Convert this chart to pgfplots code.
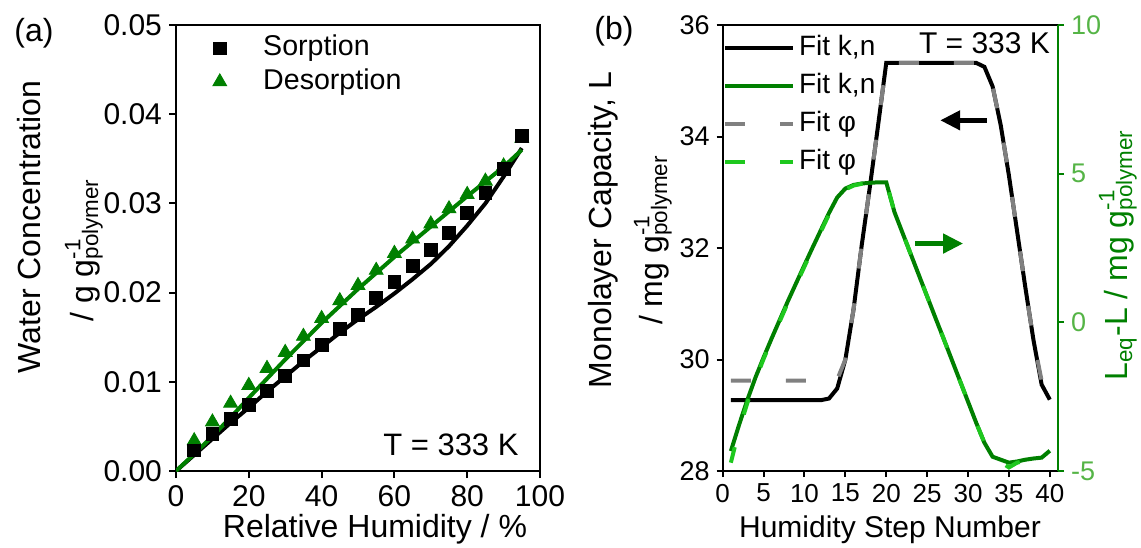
\documentclass[border=0pt]{standalone}
\usepackage{pgfplots}
\pgfplotsset{compat=1.18}
\usepackage{pgfplotstable}
\usepackage{fontspec}
\setmainfont{Liberation Sans}
\usetikzlibrary{arrows.meta}
\definecolor{dgreen}{RGB}{0,128,0}
\definecolor{lgreen}{RGB}{30,200,30}
\definecolor{tgreen}{RGB}{85,180,70}
\definecolor{fgray}{RGB}{128,128,128}
\newcommand{\supsub}[2]{\rlap{\textsuperscript{#1}}\textsubscript{#2}}
\newcommand{\fA}{\fontsize{16}{19}\selectfont}
\newcommand{\fB}{\fontsize{15}{18}\selectfont}

\pgfplotstableread{
x y
5 0.0023
10 0.0042
15 0.0058
20 0.0074
25 0.0090
30 0.0107
35 0.0124
40 0.0141
45 0.0159
50 0.0175
55 0.0194
60 0.0212
65 0.0230
70 0.0248
75 0.0267
80 0.0289
85 0.0312
90 0.0339
95 0.0376
}\sorp
\pgfplotstableread{
x y
5 0.0034
10 0.0055
15 0.0076
20 0.0096
25 0.0115
30 0.0133
35 0.0151
40 0.0171
45 0.0191
50 0.0208
55 0.0225
60 0.0244
65 0.0260
70 0.0277
75 0.0294
80 0.0310
85 0.0325
90 0.0342
95 0.0373
}\desorp
\pgfplotstableread{
x y
0 0
5 0.0018
10 0.0036
15 0.0054
20 0.0071
25 0.0089
30 0.0106
35 0.0123
40 0.0139
45 0.0155
50 0.0170
55 0.0184
60 0.0199
65 0.0215
70 0.0232
75 0.0252
80 0.0275
85 0.0300
90 0.0330
95 0.0362
}\sfit
\pgfplotstableread{
x y
0 0
5 0.0019
10 0.0039
15 0.0060
20 0.0082
30 0.0125
40 0.0166
50 0.0204
60 0.0240
70 0.0274
80 0.0308
90 0.0341
95 0.0360
}\dfit
\pgfplotstableread{
x y
1 29.27
2 29.27
3 29.27
4 29.27
5 29.27
6 29.27
7 29.27
8 29.27
9 29.27
10 29.27
11 29.27
12 29.27
13 29.30
14 29.48
15 30.00
16 30.90
17 32.05
18 33.10
19 34.20
20 35.32
21 35.32
22 35.32
23 35.32
24 35.32
25 35.32
26 35.32
27 35.32
28 35.32
29 35.32
30 35.32
31 35.32
32 35.25
33 34.90
34 34.20
35 33.30
36 32.30
37 31.30
38 30.35
39 29.55
40 29.28
}\blk
\pgfplotstableread{
x y
1 29.62
5 29.62
10 29.62
13 29.62
14 29.64
15 30.00
16 30.90
17 32.05
18 33.10
19 34.20
20 35.32
31 35.32
32 35.25
33 34.90
34 34.20
35 33.30
36 32.30
37 31.30
38 30.35
39 29.62
40 29.62
}\gry
\pgfplotstableread{
x y
1 -4.33
2 -3.45
3 -2.62
4 -1.86
5 -1.18
6 -0.53
7 0.10
8 0.73
9 1.33
10 1.93
11 2.52
12 3.10
13 3.68
14 4.20
15 4.50
16 4.62
17 4.67
18 4.69
19 4.71
20 4.71
21 3.71
22 3.00
23 2.29
24 1.58
25 0.87
26 0.16
27 -0.54
28 -1.25
29 -1.96
30 -2.67
31 -3.38
32 -4.05
33 -4.52
34 -4.62
35 -4.72
36 -4.68
37 -4.62
38 -4.58
39 -4.55
40 -4.32
}\grn
\pgfplotstableread{
x y
1 -4.72
2 -3.62
3 -2.72
4 -1.93
5 -1.23
6 -0.58
7 0.05
8 0.68
9 1.28
10 1.88
11 2.47
12 3.05
13 3.63
14 4.15
15 4.47
16 4.60
17 4.66
18 4.69
19 4.71
20 4.71
21 3.71
22 3.00
23 2.29
24 1.58
25 0.87
26 0.16
27 -0.54
28 -1.25
29 -1.96
30 -2.67
31 -3.38
32 -4.05
33 -4.52
34 -4.70
35 -4.88
36 -4.72
37 -4.65
38 -4.60
39 -4.57
40 -4.35
}\lim

\begin{document}
\begin{tikzpicture}
\useasboundingbox (0,0) rectangle (570.5pt,273.5pt);

% ---------- panel (a)
\begin{axis}[
  at={(88pt,38pt)}, anchor=south west, scale only axis,
  width=182pt, height=223pt,
  xmin=0, xmax=100, ymin=0, ymax=0.05,
  xtick={0,20,40,60,80,100}, ytick={0,0.01,0.02,0.03,0.04,0.05},
  scaled y ticks=false,
  yticklabel style={/pgf/number format/.cd, fixed, fixed zerofill, precision=2},
  /pgf/number format/assume math mode=true,
  xtick pos=bottom, ytick pos=left, tick align=outside,
  major tick length=3.5pt,
  tick style={black, line width=1pt},
  axis line style={line width=1pt},
  tick label style={font=\fB},
  legend style={draw=none, fill=none, at={(0,1)}, anchor=north west,
    xshift=13.5pt, yshift=-1.3pt, font=\fontsize{14.3}{17}\selectfont,
    row sep=0.3pt, nodes={inner sep=1.5pt, text height=10.4pt, text depth=3pt}},
  legend cell align=left,
  legend image code/.code={\path (0pt,0pt) (25pt,0pt); \draw[#1] plot coordinates {(5pt,0pt)};},
]
\addlegendimage{only marks, mark=square*, mark size=3.2pt, black}
\addlegendentry{Sorption}
\addlegendimage{only marks, mark=triangle*, mark size=4pt, dgreen}
\addlegendentry{Desorption}
\addplot[only marks, mark=triangle*, mark size=4pt, dgreen, forget plot] table {\desorp};
\addplot[only marks, mark=square*, mark size=3.2pt, black, forget plot] table {\sorp};
\addplot[black, line width=2pt, forget plot] table {\sfit};
\addplot[dgreen, line width=2pt, forget plot] table {\dfit};
\node[anchor=base west, font=\fontsize{15.5}{18}\selectfont] at (axis cs:55,0) [yshift=8pt] {T = 333 K};
\end{axis}

% ---------- panel (b), left axis
\begin{axis}[
  at={(361.35pt,38pt)}, anchor=south west, scale only axis,
  width=167.65pt, height=223pt,
  xmin=0, xmax=41, ymin=28, ymax=36,
  xtick={0,5,...,40}, ytick={28,30,32,34,36},
  /pgf/number format/assume math mode=true,
  xtick pos=bottom, ytick pos=left, tick align=outside,
  major tick length=3pt,
  tick style={black, line width=1pt},
  axis line style={draw=none},
  clip=false,
  x tick label style={font=\fontsize{13}{15}\selectfont},
  y tick label style={font=\fontsize{13.5}{16}\selectfont},
]
\draw[line width=1pt] (rel axis cs:1,1) -- (rel axis cs:0,1) -- (rel axis cs:0,0) -- (rel axis cs:1,0);
\addplot[black, line width=2pt] table {\blk};
\addplot[fgray, line width=2pt, dash pattern=on 10pt off 17.5pt] table {\gry};
\draw[-{Triangle[length=10pt,width=9.5pt]}, line width=2.3pt] (axis cs:32.3,34.29) -- (axis cs:26.6,34.29);
\draw[dgreen, -{Triangle[length=10pt,width=9.5pt]}, line width=2.3pt] (axis cs:23.5,32.08) -- (axis cs:29.4,32.08);
\node[anchor=base east, font=\fontsize{15}{18}\selectfont, xshift=-0.5pt, yshift=-14pt] at (rel axis cs:1,1) {T = 333 K};
\end{axis}

% ---------- panel (b), right axis
\begin{axis}[
  at={(361.35pt,38pt)}, anchor=south west, scale only axis,
  width=167.65pt, height=223pt,
  xmin=0, xmax=41, ymin=-5, ymax=10,
  ytick={-5,0,5,10},
  /pgf/number format/assume math mode=true,
  axis x line=none, axis y line*=right,
  y axis line style={dgreen, line width=1pt, -},
  ytick style={dgreen, line width=1pt},
  tick align=outside, major tick length=3pt,
  yticklabel style={text=tgreen, font=\fontsize{13.5}{16}\selectfont},
  clip=false,
  legend style={draw=none, fill=none, at={(0,1)}, anchor=north west,
    xshift=-3pt, yshift=-0.5pt, font=\fontsize{14}{17}\selectfont,
    row sep=1.6pt, nodes={inner sep=2pt, text height=10.5pt, text depth=3pt}},
  legend cell align=left,
  legend image code/.code={\draw[#1] (0pt,0pt) -- (34pt,0pt);},
]
\addlegendimage{black, line width=2pt}
\addlegendentry{Fit k,n}
\addlegendimage{dgreen, line width=2pt}
\addlegendentry{Fit k,n}
\addlegendimage{fgray, line width=2pt, dash pattern=on 10pt off 17.5pt}
\addlegendentry{Fit φ}
\addlegendimage{lgreen, line width=2pt, dash pattern=on 10pt off 17.5pt}
\addlegendentry{Fit φ}
\addplot[dgreen, line width=2pt, forget plot] table {\grn};
\addplot[lgreen, line width=2pt, dash pattern=on 8pt off 17pt, forget plot] table {\lim};
\end{axis}

% ---------- labels
\node[rotate=90, anchor=base, font=\fA] at (20.5pt,160pt) {Water Concentration};
\node[rotate=90, anchor=base, font=\fA] at (46.5pt,148.5pt) {/ g g\supsub{-1}{polymer}};
\node[anchor=base, font=\fA] at (17pt,252.5pt) {(a)};
\node[anchor=base, font=\fA] at (187.5pt,5pt) {Relative Humidity / \%};
\node[anchor=base, font=\fA] at (307pt,253.5pt) {(b)};
\node[rotate=90, anchor=base, font=\fA] at (305.5pt,158.5pt) {Monolayer Capacity, L};
\node[rotate=90, anchor=base, font=\fA] at (331pt,153.5pt) {/ mg g\supsub{-1}{polymer}};
\node[anchor=base, font=\fB] at (445pt,5pt) {Humidity Step Number};
\node[rotate=90, anchor=base, font=\fA, text=dgreen] at (563.5pt,146pt) {L\textsubscript{eq}-L / mg g\supsub{-1}{polymer}};
\end{tikzpicture}
\end{document}
